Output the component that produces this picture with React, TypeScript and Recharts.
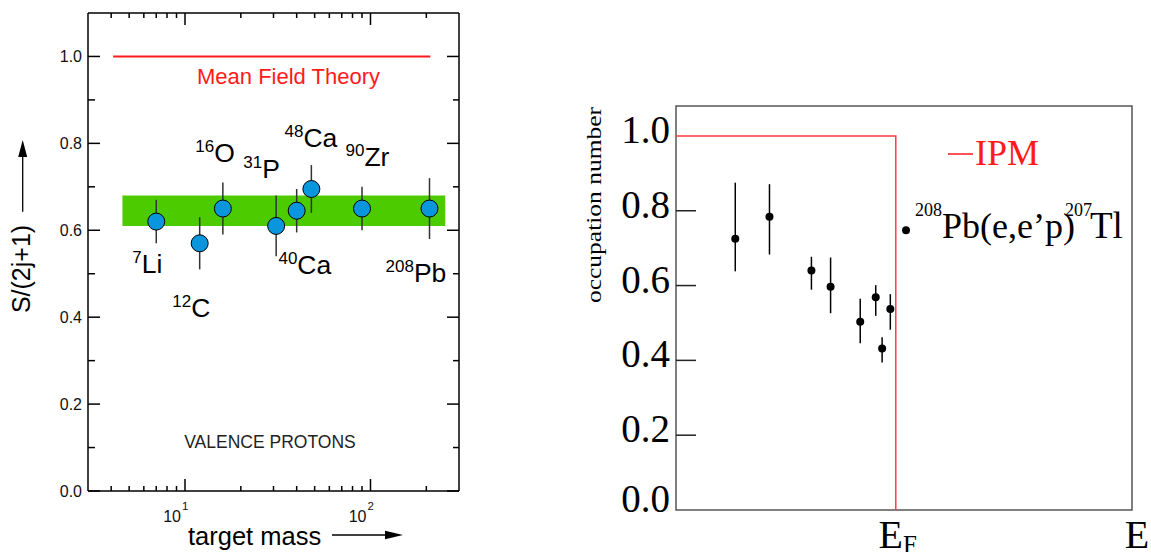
import React from "react";
import {
  ComposedChart,
  Scatter,
  Line,
  XAxis,
  YAxis,
  ErrorBar,
  ReferenceArea,
  ReferenceLine,
} from "recharts";

// ---- left panel: S/(2j+1) of valence protons vs target mass ----
const nuclei = ["7Li", "12C", "16O", "31P", "40Ca", "48Ca", "90Zr", "208Pb"];
const targetMass = [7, 12, 16, 31, 40, 48, 90, 208];
const sFactor = [0.62, 0.57, 0.65, 0.61, 0.645, 0.695, 0.65, 0.65];
const sError = [0.05, 0.06, 0.06, 0.07, 0.05, 0.055, 0.05, 0.07];

// isotope labels (mass number / symbol) and where they sit, in data units
const labelSup = ["7", "12", "16", "31", "40", "48", "90", "208"];
const labelSym = ["Li", "C", "O", "P", "Ca", "Ca", "Zr", "Pb"];
const labelAtMass = [5.2, 8.54, 11.37, 20.6, 31.9, 34.4, 73.3, 120.5];
const labelAtS = [0.501, 0.4, 0.757, 0.7195, 0.499, 0.791, 0.749, 0.48];

const bandMass = [4.6, 253];
const bandS = [0.61, 0.68];
const meanFieldMass = [4.1, 210];
const meanFieldS = 1.0;

const massTicks = [4, 5, 6, 7, 8, 9, 10, 20, 30, 40, 50, 60, 70, 80, 90, 100, 200];
const sTicks = [0, 0.1, 0.2, 0.3, 0.4, 0.5, 0.6, 0.7, 0.8, 0.9, 1.0];

// ---- right panel: occupation numbers 208Pb(e,e'p)207Tl ----
const levelEnergy = [13.0, 20.5, 29.7, 33.9, 40.4, 43.8, 45.2, 47.0];
const occupation = [0.725, 0.784, 0.64, 0.597, 0.503, 0.569, 0.432, 0.537];
const occErrLow = [0.087, 0.101, 0.051, 0.071, 0.057, 0.05, 0.038, 0.055];
const occErrHigh = [0.15, 0.087, 0.037, 0.078, 0.062, 0.032, 0.03, 0.04];
const fermiEnergy = 48.2;
const ipmE = [0, fermiEnergy, fermiEnergy];
const ipmN = [1, 1, 0];
const occTicks = [0, 0.2, 0.4, 0.6, 0.8, 1.0];
const energyTicks = [fermiEnergy, 100];

const SANS = "'Liberation Sans', Arial, sans-serif";
const SERIF = "'Liberation Serif', 'Times New Roman', serif";

const leftPoints = targetMass.map((m, i) => ({
  name: nuclei[i],
  mass: m,
  s: sFactor[i],
  err: sError[i],
}));
const leftLabels = labelAtMass.map((m, i) => ({
  mass: m,
  s: labelAtS[i],
  sup: labelSup[i],
  sym: labelSym[i],
}));
const rightPoints = levelEnergy.map((e, i) => ({
  e,
  n: occupation[i],
  err: [occErrLow[i], occErrHigh[i]],
}));
const ipmData = ipmE.map((e, i) => ({ e, n: ipmN[i] }));

const isMajorS = (v: number) => Math.round(v * 10) % 2 === 0;

function LeftYTick(props: any) {
  const { x, y, payload } = props;
  const v = payload.value as number;
  const major = isMajorS(v);
  return (
    <g>
      <line x1={x} x2={x + (major ? 12 : 7)} y1={y} y2={y} stroke="#000" strokeWidth={1.5} />
      {major && (
        <text x={x - 6} y={y} dy="0.35em" textAnchor="end" fontSize={16} fontFamily={SANS} fill="#111">
          {v.toFixed(1)}
        </text>
      )}
    </g>
  );
}

function RightYTick(props: any) {
  const { x, y, payload } = props;
  const major = isMajorS(payload.value);
  return <line x1={x} x2={x - (major ? 12 : 6)} y1={y} y2={y} stroke="#000" strokeWidth={1.5} />;
}

function BottomXTick(props: any) {
  const { x, y, payload } = props;
  const v = payload.value as number;
  const major = v === 10 || v === 100;
  return (
    <g>
      <line x1={x} x2={x} y1={y} y2={y - (major ? 12 : 5)} stroke="#000" strokeWidth={1.5} />
      {major && (
        <text fontFamily={SANS} fill="#111">
          <tspan x={x - 4} y={y + 31} fontSize={16} textAnchor="end">
            10
          </tspan>
          <tspan x={x - 3} y={y + 19} fontSize={11.5}>
            {v === 10 ? "1" : "2"}
          </tspan>
        </text>
      )}
    </g>
  );
}

function TopXTick(props: any) {
  const { x, y, payload } = props;
  const v = payload.value as number;
  const major = v === 10 || v === 100;
  return <line x1={x} x2={x} y1={y} y2={y + (major ? 12 : 5)} stroke="#000" strokeWidth={1.5} />;
}

function OccTick(props: any) {
  const { x, y, payload } = props;
  const v = payload.value as number;
  const inner = v > 0 && v < 1;
  return (
    <g>
      {inner && <line x1={x} x2={x + 20} y1={y} y2={y} stroke="#222" strokeWidth={1.5} />}
      <text
        x={x - 6}
        y={y + (v === 0 ? 2 : 7)}
        textAnchor="end"
        fontSize={39}
        fontFamily={SERIF}
        fill="#000"
      >
        {v.toFixed(1)}
      </text>
    </g>
  );
}

function EnergyTick(props: any) {
  const { x, y, payload } = props;
  const v = payload.value as number;
  if (v === fermiEnergy) {
    return (
      <text x={x + 2} y={y + 38} textAnchor="middle" fontFamily={SERIF} fill="#000">
        <tspan fontSize={40}>E</tspan>
        <tspan fontSize={25} dy={5}>
          F
        </tspan>
      </text>
    );
  }
  return (
    <text x={x + 5} y={y + 38} textAnchor="middle" fontSize={40} fontFamily={SERIF} fill="#000">
      E
    </text>
  );
}

function IsotopeLabel(props: any) {
  const { cx, cy, payload } = props;
  return (
    <text x={cx} y={cy} fontFamily={SANS} fill="#000">
      <tspan fontSize={17} dy={-10}>
        {payload.sup}
      </tspan>
      <tspan fontSize={26.5} dy={10}>
        {payload.sym}
      </tspan>
    </text>
  );
}

function BlueDot(props: any) {
  const { cx, cy } = props;
  return <circle cx={cx} cy={cy} r={8.5} fill="#0a96dc" stroke="#000" strokeWidth={1} />;
}

function BlackDot(props: any) {
  const { cx, cy } = props;
  return <circle cx={cx} cy={cy} r={4} fill="#000" />;
}

function SpectroscopicPanel() {
  return (
    <ComposedChart
      width={500}
      height={552}
      margin={{ top: 3, right: 31, bottom: 31, left: 48 }}
    >
      <XAxis
        xAxisId="b"
        dataKey="mass"
        type="number"
        scale="log"
        domain={[3, 300]}
        allowDataOverflow
        ticks={massTicks}
        interval={0}
        height={30}
        tickSize={0}
        tickMargin={0}
        tickLine={false}
        axisLine={{ stroke: "#000", strokeWidth: 1.5 }}
        tick={BottomXTick}
      />
      <XAxis
        xAxisId="t"
        orientation="top"
        dataKey="mass"
        type="number"
        scale="log"
        domain={[3, 300]}
        allowDataOverflow
        ticks={massTicks}
        interval={0}
        height={10}
        tickSize={0}
        tickMargin={0}
        tickLine={false}
        axisLine={{ stroke: "#000", strokeWidth: 1.5 }}
        tick={TopXTick}
      />
      <YAxis
        yAxisId="l"
        dataKey="s"
        type="number"
        domain={[0, 1.1]}
        allowDataOverflow
        ticks={sTicks}
        interval={0}
        width={40}
        tickSize={0}
        tickMargin={0}
        tickLine={false}
        axisLine={{ stroke: "#000", strokeWidth: 1.5 }}
        tick={LeftYTick}
      />
      <YAxis
        yAxisId="r"
        orientation="right"
        dataKey="s"
        type="number"
        domain={[0, 1.1]}
        allowDataOverflow
        ticks={sTicks}
        interval={0}
        width={10}
        tickSize={0}
        tickMargin={0}
        tickLine={false}
        axisLine={{ stroke: "#000", strokeWidth: 1.5 }}
        tick={RightYTick}
      />
      <ReferenceArea
        xAxisId="b"
        yAxisId="l"
        x1={bandMass[0]}
        x2={bandMass[1]}
        y1={bandS[0]}
        y2={bandS[1]}
        fill="#4ccb00"
        fillOpacity={1}
        stroke="none"
      />
      <ReferenceLine
        xAxisId="b"
        yAxisId="l"
        segment={[
          { x: meanFieldMass[0], y: meanFieldS },
          { x: meanFieldMass[1], y: meanFieldS },
        ]}
        stroke="#ff1a1a"
        strokeWidth={2}
      />
      <Scatter
        xAxisId="b"
        yAxisId="l"
        data={leftPoints}
        shape={BlueDot}
        isAnimationActive={false}
      >
        <ErrorBar dataKey="err" direction="y" width={0} stroke="#333" strokeWidth={1.5} />
      </Scatter>
      <Scatter
        xAxisId="b"
        yAxisId="l"
        data={leftLabels}
        shape={IsotopeLabel}
        isAnimationActive={false}
      />
    </ComposedChart>
  );
}

function OccupationPanel() {
  return (
    <ComposedChart
      width={591}
      height={552}
      margin={{ top: 106, right: 19, bottom: 0, left: 16 }}
    >
      <XAxis
        dataKey="e"
        type="number"
        domain={[0, 100]}
        allowDataOverflow
        ticks={energyTicks}
        interval={0}
        height={42}
        tickSize={0}
        tickMargin={0}
        tickLine={false}
        axisLine={false}
        tick={EnergyTick}
      />
      <YAxis
        dataKey="n"
        type="number"
        domain={[0, 1.08]}
        allowDataOverflow
        ticks={occTicks}
        interval={0}
        width={100}
        tickSize={0}
        tickMargin={0}
        tickLine={false}
        axisLine={false}
        tick={OccTick}
      />
      <ReferenceArea
        x1={0}
        x2={100}
        y1={0}
        y2={1.08}
        fill="none"
        fillOpacity={0}
        stroke="#555"
        strokeWidth={1.5}
      />
      <Line
        data={ipmData}
        dataKey="n"
        type="linear"
        stroke="#ff3b3b"
        strokeWidth={1.5}
        dot={false}
        isAnimationActive={false}
      />
      <Scatter data={rightPoints} shape={BlackDot} isAnimationActive={false}>
        <ErrorBar dataKey="err" direction="y" width={0} stroke="#000" strokeWidth={1.5} />
      </Scatter>
    </ComposedChart>
  );
}

export default function App() {
  return (
    <div
      style={{
        position: "absolute",
        left: 0,
        top: 0,
        width: 1151,
        height: 552,
        background: "#fff",
        overflow: "hidden",
      }}
    >
      <div style={{ position: "absolute", left: 0, top: 0 }}>
        <SpectroscopicPanel />
      </div>
      <div style={{ position: "absolute", left: 560, top: 0 }}>
        <OccupationPanel />
      </div>
      <svg
        width={1151}
        height={552}
        style={{ position: "absolute", left: 0, top: 0, pointerEvents: "none" }}
      >
        {/* left panel titles */}
        <text
          transform="translate(30,269) rotate(-90)"
          textAnchor="middle"
          fontSize={25}
          fontFamily={SANS}
          fill="#000"
        >
          S/(2j+1)
        </text>
        <line x1={22.7} x2={22.7} y1={211.7} y2={155} stroke="#000" strokeWidth={1.3} />
        <polygon points="22.7,140 18.2,157 27.2,157" fill="#000" />
        <text x={188} y={545} fontSize={25.5} fontFamily={SANS} fill="#000">
          target mass
        </text>
        <line x1={332} x2={388} y1={535} y2={535} stroke="#000" strokeWidth={1.3} />
        <polygon points="403,535 385,530.7 385,539.3" fill="#000" />
        <text x={288.5} y={83.5} textAnchor="middle" fontSize={22} fontFamily={SANS} fill="#ff1a1a">
          Mean Field Theory
        </text>
        <text x={270} y={448} textAnchor="middle" fontSize={17.5} fontFamily={SANS} fill="#222">
          VALENCE PROTONS
        </text>

        {/* right panel titles and legend */}
        <text
          transform="translate(601,205) rotate(-90)"
          textAnchor="middle"
          fontSize={22}
          fontFamily={SERIF}
          textLength={196}
          lengthAdjust="spacingAndGlyphs"
          fill="#000"
        >
          occupation number
        </text>
        <line x1={948} x2={973} y1={154} y2={154} stroke="#ff1a1a" strokeWidth={1.5} />
        <text x={975} y={165} fontSize={36} fontFamily={SERIF} fill="#ff1a1a">
          IPM
        </text>
        <circle cx={906} cy={230.3} r={4} fill="#000" />
        <text fontFamily={SERIF} fill="#000">
          <tspan x={915} y={216} fontSize={18}>
            208
          </tspan>
          <tspan x={942} y={238} fontSize={36}>
            Pb(e,e’p)
          </tspan>
          <tspan x={1065} y={216} fontSize={18}>
            207
          </tspan>
          <tspan x={1090} y={238} fontSize={37}>
            Tl
          </tspan>
        </text>
      </svg>
    </div>
  );
}
